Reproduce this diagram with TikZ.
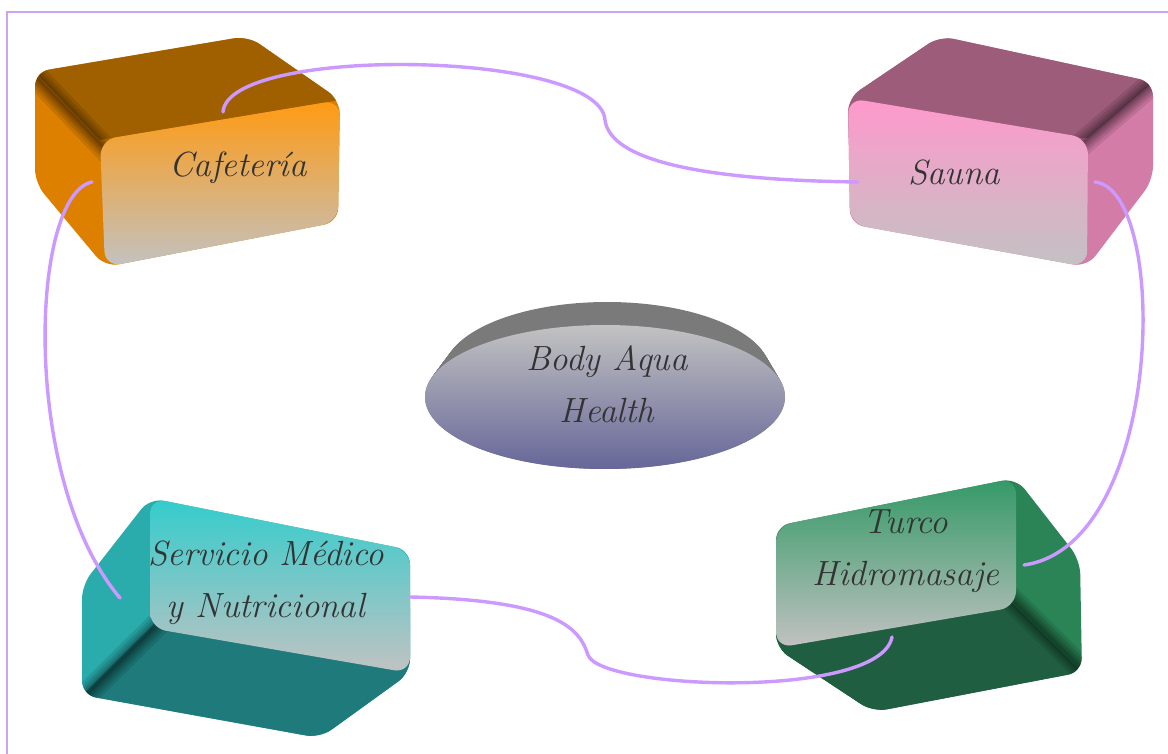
\documentclass[tikz,border=0pt]{standalone}
\usepackage{xcolor}
\begin{document}
\begin{tikzpicture}[x=1pt,y=-1pt,
  link/.style={draw=linkc,line width=3.4pt,line cap=round},
  frame/.style={draw=framec,line width=1.8pt},
  boxtext/.style={text=txt,font=\fontsize{35}{52}\selectfont\itshape,align=center,inner sep=0pt},
  streak/.style={line width=#1,draw=black,opacity=.1,line cap=butt},
  body/.style={rounded corners=14},
  face/.style={rounded corners=16},
]
\definecolor{linkc}{HTML}{CC99FF}
\definecolor{framec}{HTML}{CCA3F5}
\definecolor{txt}{HTML}{333333}
\definecolor{cafTop}{HTML}{A06000}
\definecolor{cafSide}{HTML}{DD8000}
\definecolor{cafFront}{HTML}{FF9A12}
\definecolor{sauTop}{HTML}{9C5C7A}
\definecolor{sauSide}{HTML}{D47CA8}
\definecolor{sauFront}{HTML}{FF99CC}
\definecolor{serSide}{HTML}{2AACAC}
\definecolor{serBot}{HTML}{1F7B7B}
\definecolor{serFront}{HTML}{33CCCC}
\definecolor{turSide}{HTML}{2A8456}
\definecolor{turBot}{HTML}{1F5E40}
\definecolor{turFront}{HTML}{339966}
\definecolor{grayEnd}{HTML}{C2C2C2}
\definecolor{rim}{HTML}{7A7A7A}
\definecolor{discLow}{HTML}{666699}

\useasboundingbox (0,0) rectangle (1168,754);
\fill[white] (0,0) rectangle (1168,754);

% outer frame (top and left sides)
\draw[frame] (7,754) -- (7,12) -- (1168,12);

% ---------- Cafeteria box ----------
\begin{scope}
  \fill[cafSide,body] (35,72) -- (248,36) -- (340,100) -- (338,222) -- (105,267) -- (35,183) -- cycle;
  \begin{scope}
    \clip[body] (35,72) -- (248,36) -- (340,100) -- (338,222) -- (105,267) -- (35,183) -- cycle;
    \fill[cafTop] (100,140) -- (400,90) -- (260,0) -- (15,51) -- cycle;
    \foreach \w in {24,18,13,9,5,2}
      \draw[streak=\w pt] (18,58) -- (112,156);
  \end{scope}
  \shade[top color=cafFront,bottom color=grayEnd,face] (100,140) -- (340,100) -- (338,222) -- (105,267) -- cycle;
\end{scope}
\node[boxtext] (caf) at (238,168) {Cafetería};

% ---------- Sauna box ----------
\begin{scope}
  \fill[sauSide,body] (848,98) -- (940,36) -- (1153,82) -- (1153,180) -- (1087,267) -- (850,224) -- cycle;
  \begin{scope}
    \clip[body] (848,98) -- (940,36) -- (1153,82) -- (1153,180) -- (1087,267) -- (850,224) -- cycle;
    \fill[sauTop] (1088,138) -- (1175,63) -- (1175,0) -- (800,0) -- (800,138) -- cycle;
    \foreach \w in {24,18,13,9,5,2}
      \draw[streak=\w pt] (1075,150) -- (1170,68);
  \end{scope}
  \shade[top color=sauFront,bottom color=grayEnd,face] (848,98) -- (1088,138) -- (1087,267) -- (850,224) -- cycle;
\end{scope}
\node[boxtext] (sau) at (954,173) {Sauna};

% ---------- Servicio Medico box ----------
\begin{scope}
  \fill[serSide,body] (150,498) -- (410,550) -- (410,673) -- (320,738) -- (82,695) -- (82,585) -- cycle;
  \begin{scope}
    \clip[body] (150,498) -- (410,550) -- (410,673) -- (320,738) -- (82,695) -- (82,585) -- cycle;
    \fill[serBot] (170,608) -- (60,717) -- (60,760) -- (430,760) -- (430,608) -- cycle;
    \foreach \w in {24,18,13,9,5,2}
      \draw[streak=\w pt] (168,614) -- (64,717);
  \end{scope}
  \shade[top color=serFront,bottom color=grayEnd,face] (150,498) -- (410,550) -- (410,673) -- (150,628) -- cycle;
\end{scope}
\node[boxtext] (ser) at (266,583) {Servicio Médico\\y Nutricional};

% ---------- Turco / Hidromasaje box ----------
\begin{scope}
  \fill[turSide,body] (776,526) -- (1016,478) -- (1080,560) -- (1082,672) -- (873,712) -- (776,648) -- cycle;
  \begin{scope}
    \clip[body] (776,526) -- (1016,478) -- (1080,560) -- (1082,672) -- (873,712) -- (776,648) -- cycle;
    \fill[turBot] (996,587) -- (1100,690) -- (1100,760) -- (750,760) -- (750,587) -- cycle;
    \foreach \w in {24,18,13,9,5,2}
      \draw[streak=\w pt] (998,586) -- (1100,687);
  \end{scope}
  \shade[top color=turFront,bottom color=grayEnd,face] (776,526) -- (1016,478) -- (1016,607) -- (776,648) -- cycle;
\end{scope}
\node[boxtext] (tur) at (906,551) {Turco\\Hidromasaje};

% ---------- central disc ----------
\foreach \t in {0,0.04,...,1.0}
  \fill[rim] ({607-2*\t},{372+25*\t}) ellipse [x radius={163+17*\t}, y radius={70+2*\t}];
\shade[top color=grayEnd,bottom color=discLow] (605,397) ellipse [x radius=180, y radius=72];
\node[boxtext] (hub) at (607,384) {Body Aqua\\Health};

% ---------- connector end points ----------
\coordinate (cafN) at (223,112);
\coordinate (cafW) at (92,182);
\coordinate (sauW) at (858,182);
\coordinate (sauE) at (1095,182);
\coordinate (serW) at (120,598);
\coordinate (serE) at (410,597);
\coordinate (turE) at (1024,565);
\coordinate (turS) at (892,637);
\coordinate (bendN) at (605,120);
\coordinate (bendS) at (588,655);

% ---------- connectors ----------
\draw[link] (cafN) .. controls (228,45) and (600,50) .. (bendN)
                   .. controls (610,160) and (700,180) .. (sauW);
\draw[link] (cafW) .. controls (30,195) and (20,480) .. (serW);
\draw[link] (sauE) .. controls (1170,190) and (1165,545) .. (turE);
\draw[link] (serE) .. controls (560,600) and (580,630) .. (bendS)
                   .. controls (600,690) and (880,700) .. (turS);
\end{tikzpicture}
\end{document}
